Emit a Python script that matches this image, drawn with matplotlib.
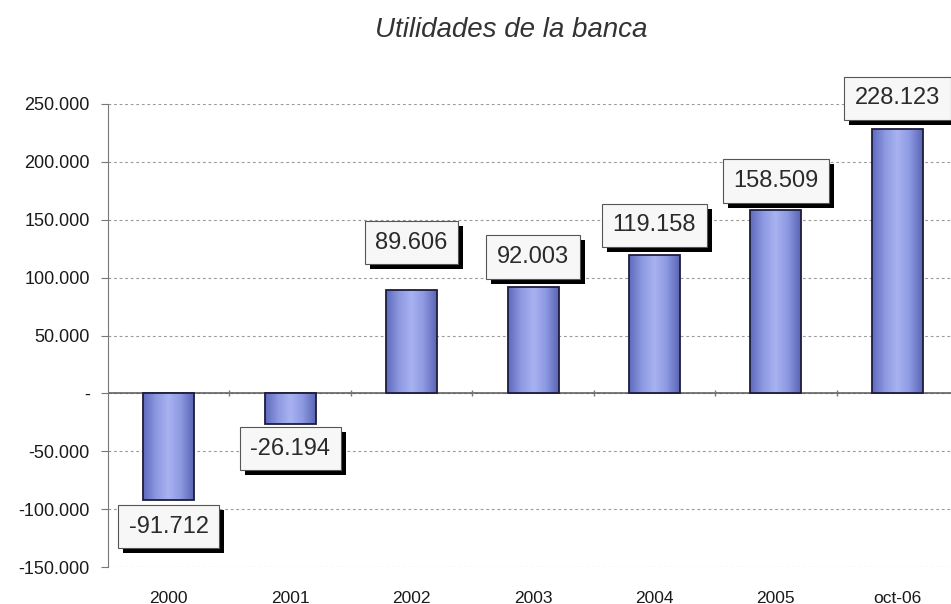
import numpy as np
import matplotlib.pyplot as plt
import matplotlib.patheffects as pe
from matplotlib.colors import LinearSegmentedColormap
from matplotlib.ticker import FuncFormatter

plt.rcParams["font.family"] = ["Liberation Sans", "DejaVu Sans"]

years = ['2000', '2001', '2002', '2003', '2004', '2005', 'oct-06']
utilidades = [-91712, -26194, 89606, 92003, 119158, 158509, 228123]

# vertical pixel offset of each value box from the bar end
label_offset = [-27, -25, 47, 30, 30, 29, 31]


def miles(v):
    # thousands with a dot, zero shown as a dash
    if v == 0:
        return '-'
    return f'{v:,.0f}'.replace(',', '.')


fig = plt.figure(figsize=(9.51, 6.04), dpi=100)
ax = fig.add_axes([108 / 951, 37 / 604, 850 / 951, 463 / 604])

x = np.arange(len(years))
bars = ax.bar(x, utilidades, width=0.42, color='#8c98e0',
              edgecolor='#1c1c3c', linewidth=1.3, zorder=3)

# cylinder-like shading inside each bar
shade = LinearSegmentedColormap.from_list(
    'shade', ['#5f6bbd', '#8c98e0', '#a9b3f2', '#8c98e0', '#5a66b5'])
grad = np.linspace(0, 1, 64).reshape(1, -1)
for b in bars:
    x0, y0 = b.get_x(), b.get_y()
    w, h = b.get_width(), b.get_height()
    im = ax.imshow(grad, cmap=shade, aspect='auto', zorder=3.5,
                   extent=[x0, x0 + w, min(y0, y0 + h), max(y0, y0 + h)])
    im.set_clip_path(b)
    b.set_facecolor('none')
    b.set_zorder(4)

ax.set_xlim(-0.5, len(years) - 0.5)
ax.set_ylim(-150000, 250000)
ax.set_yticks(np.arange(-150000, 250001, 50000))
ax.yaxis.set_major_formatter(FuncFormatter(lambda v, p: miles(v)))
ax.set_xticks(x)
ax.set_xticklabels(years)

ax.grid(axis='y', color='#9a9a9a', linestyle=(0, (2.5, 2.5)), linewidth=0.8, zorder=0)
ax.axhline(0, color='#555555', linewidth=1.1, zorder=2)
ax.plot(x[:-1] + 0.5, [0] * (len(x) - 1), linestyle='none', marker='|',
        markersize=5, color='#777777', zorder=2)

for s in ['top', 'right', 'bottom']:
    ax.spines[s].set_visible(False)
ax.spines['left'].set_color('#777777')
ax.tick_params(axis='y', length=5, color='#777777', labelsize=13,
               labelcolor='#1a1a1a', pad=8)
ax.tick_params(axis='x', length=0, labelsize=12.5, labelcolor='#1a1a1a', pad=17)

# value boxes with a black drop shadow
for i, v in enumerate(utilidades):
    t = ax.annotate(miles(v), xy=(i, v), xytext=(0, label_offset[i]),
                    textcoords='offset pixels', ha='center', va='center',
                    fontsize=17, color='#2a2a2a', zorder=6,
                    bbox=dict(boxstyle='square,pad=0.45', fc='#f7f7f7',
                              ec='#555555', lw=0.8))
    t.get_bbox_patch().set_path_effects([
        pe.SimplePatchShadow(offset=(3.6, -3.6), shadow_rgbFace='black', alpha=1),
        pe.Normal()])

fig.text(511 / 951, 1 - 30 / 604, 'Utilidades de la banca', ha='center', va='center',
         fontsize=20, style='italic', color='#333333')

fig.savefig('out.png', dpi=100, facecolor='white')
